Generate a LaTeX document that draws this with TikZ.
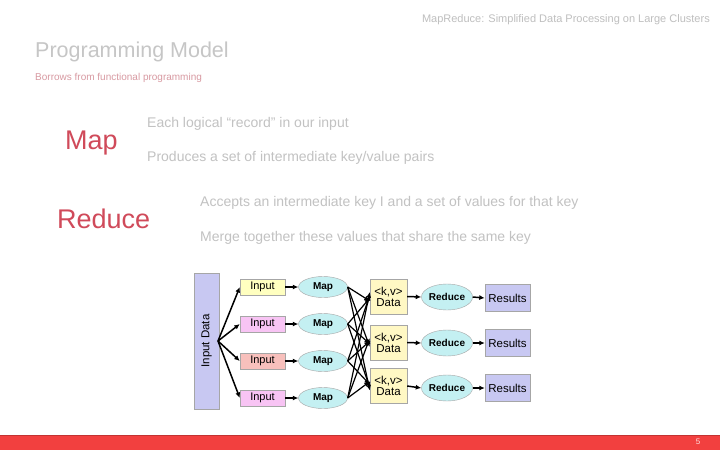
\documentclass[tikz,border=0pt]{standalone}
\usepackage{fontspec}
\setmainfont{Liberation Sans}
\usetikzlibrary{shapes.geometric,arrows.meta}
\definecolor{barred}{HTML}{F2403F}
\definecolor{kwred}{HTML}{D04A5A}
\definecolor{subred}{HTML}{D89AA2}
\definecolor{lav}{HTML}{C8C8F2}
\definecolor{inyel}{HTML}{FFFFC0}
\definecolor{inpink}{HTML}{F8C4F4}
\definecolor{insal}{HTML}{F8C0BC}
\definecolor{mapcyan}{HTML}{C4F0F2}
\definecolor{datayel}{HTML}{FFF8C4}
\begin{document}
\begin{tikzpicture}[x=1pt,y=-1pt,
  hdr/.style={text=gray!50,font=\fontsize{11}{13}\selectfont,anchor=east,inner sep=0},
  body/.style={text=gray!48,font=\fontsize{14}{16}\selectfont,anchor=west,inner sep=0},
  kw/.style={text=kwred,font=\fontsize{27}{30}\selectfont,anchor=west,inner sep=0},
  inbox/.style={draw=gray!70,line width=0.4pt,minimum width=45pt,minimum height=16pt,inner sep=0,font=\fontsize{11}{12}\selectfont},
  mapell/.style={ellipse,draw=gray!70,line width=0.4pt,fill=mapcyan,minimum width=49pt,minimum height=21pt,inner sep=0,font=\bfseries\fontsize{10}{11}\selectfont},
  databox/.style={draw=gray!70,line width=0.4pt,fill=datayel,minimum width=37pt,minimum height=35pt,inner sep=0,align=center,font=\fontsize{11.5}{12}\selectfont},
  redell/.style={ellipse,draw=gray!70,line width=0.4pt,fill=mapcyan,minimum width=48pt,minimum height=26pt,inner sep=0,font=\bfseries\fontsize{10}{11}\selectfont},
  resbox/.style={draw=gray!70,line width=0.4pt,fill=lav,minimum width=45pt,minimum height=27pt,inner sep=0,font=\fontsize{11.5}{12}\selectfont},
  arr/.style={-{Latex[length=5.5pt,width=5pt]},line width=1.5pt,black}
]
\useasboundingbox (0,0) rectangle (720,450);
\fill[white] (0,0) rectangle (720,450);
% bottom bar
\fill[barred] (0,435) rectangle (720,450);
\draw[barred!80!black,line width=0.5pt] (0,435) -- (720,435);
\node[text=white!85!barred,font=\fontsize{8}{9}\selectfont,inner sep=0] (pg) at (698,442) {5};
% header and titles
\node[hdr] (hd) at (710,20) {MapReduce: Simplified Data Processing on Large Clusters};
\node[text=gray!45,font=\fontsize{21.5}{24}\selectfont,anchor=west,inner sep=0] (title) at (35,52) {Programming Model};
\node[text=subred,font=\fontsize{10}{12}\selectfont,anchor=west,inner sep=0] (sub) at (35,78) {Borrows from functional programming};
% Map / Reduce text
\node[kw] (kmap) at (65,143) {Map};
\node[body] (m1) at (147,124) {Each logical “record” in our input};
\node[body] (m2) at (147,158) {Produces a set of intermediate key/value pairs};
\node[kw] (kred) at (57,219) {Reduce};
\node[body] (r1) at (200,203) {Accepts an intermediate key I and a set of values for that key};
\node[body] (r2) at (200,238) {Merge together these values that share the same key};
% diagram
\node[draw=gray!70,line width=0.4pt,fill=lav,minimum width=25pt,minimum height=136pt,inner sep=0] (idata) at (206.5,341) {};
\node[rotate=90,font=\fontsize{11.5}{12}\selectfont] (idlab) at (206.5,341) {Input Data};
\coordinate (fan) at (218,341);
\node[inbox,fill=inyel] (in1) at (262.5,287) {Input};
\node[inbox,fill=inpink] (in2) at (262.5,324) {Input};
\node[inbox,fill=insal] (in3) at (262.5,361) {Input};
\node[inbox,fill=inpink] (in4) at (262.5,398) {Input};
\foreach \i in {1,...,4}{\draw[arr] (fan) -- (in\i.west);}
\node[mapell] (mp1) at (323,287) {Map};
\node[mapell] (mp2) at (323,324) {Map};
\node[mapell] (mp3) at (323,361) {Map};
\node[mapell] (mp4) at (323,398) {Map};
\foreach \i in {1,...,4}{\draw[arr] (in\i.east) -- (mp\i.west);}
\node[databox] (d1) at (388.5,296.5) {<k,v>\\[-1pt]Data};
\node[databox] (d2) at (388.5,342.5) {<k,v>\\[-1pt]Data};
\node[databox] (d3) at (388.5,386) {<k,v>\\[-1pt]Data};
\foreach \i in {1,...,4}{
  \foreach \j in {1,2,3}{
    \pgfmathsetmacro{\dy}{(\i-2.5)*3}
    \draw[arr,line width=1.2pt] (mp\i.east) -- ([yshift=\dy pt]d\j.west);
  }
}
\node[redell] (rd1) at (447,297) {Reduce};
\node[redell] (rd2) at (447,343) {Reduce};
\node[redell] (rd3) at (447,388) {Reduce};
\node[resbox] (rs1) at (507.5,298) {Results};
\node[resbox] (rs2) at (507.5,343) {Results};
\node[resbox] (rs3) at (507.5,388) {Results};
\foreach \i in {1,2,3}{
  \draw[arr] (d\i.east) -- (rd\i.west);
  \draw[arr] (rd\i.east) -- (rs\i.west);
}
\end{tikzpicture}
\end{document}
